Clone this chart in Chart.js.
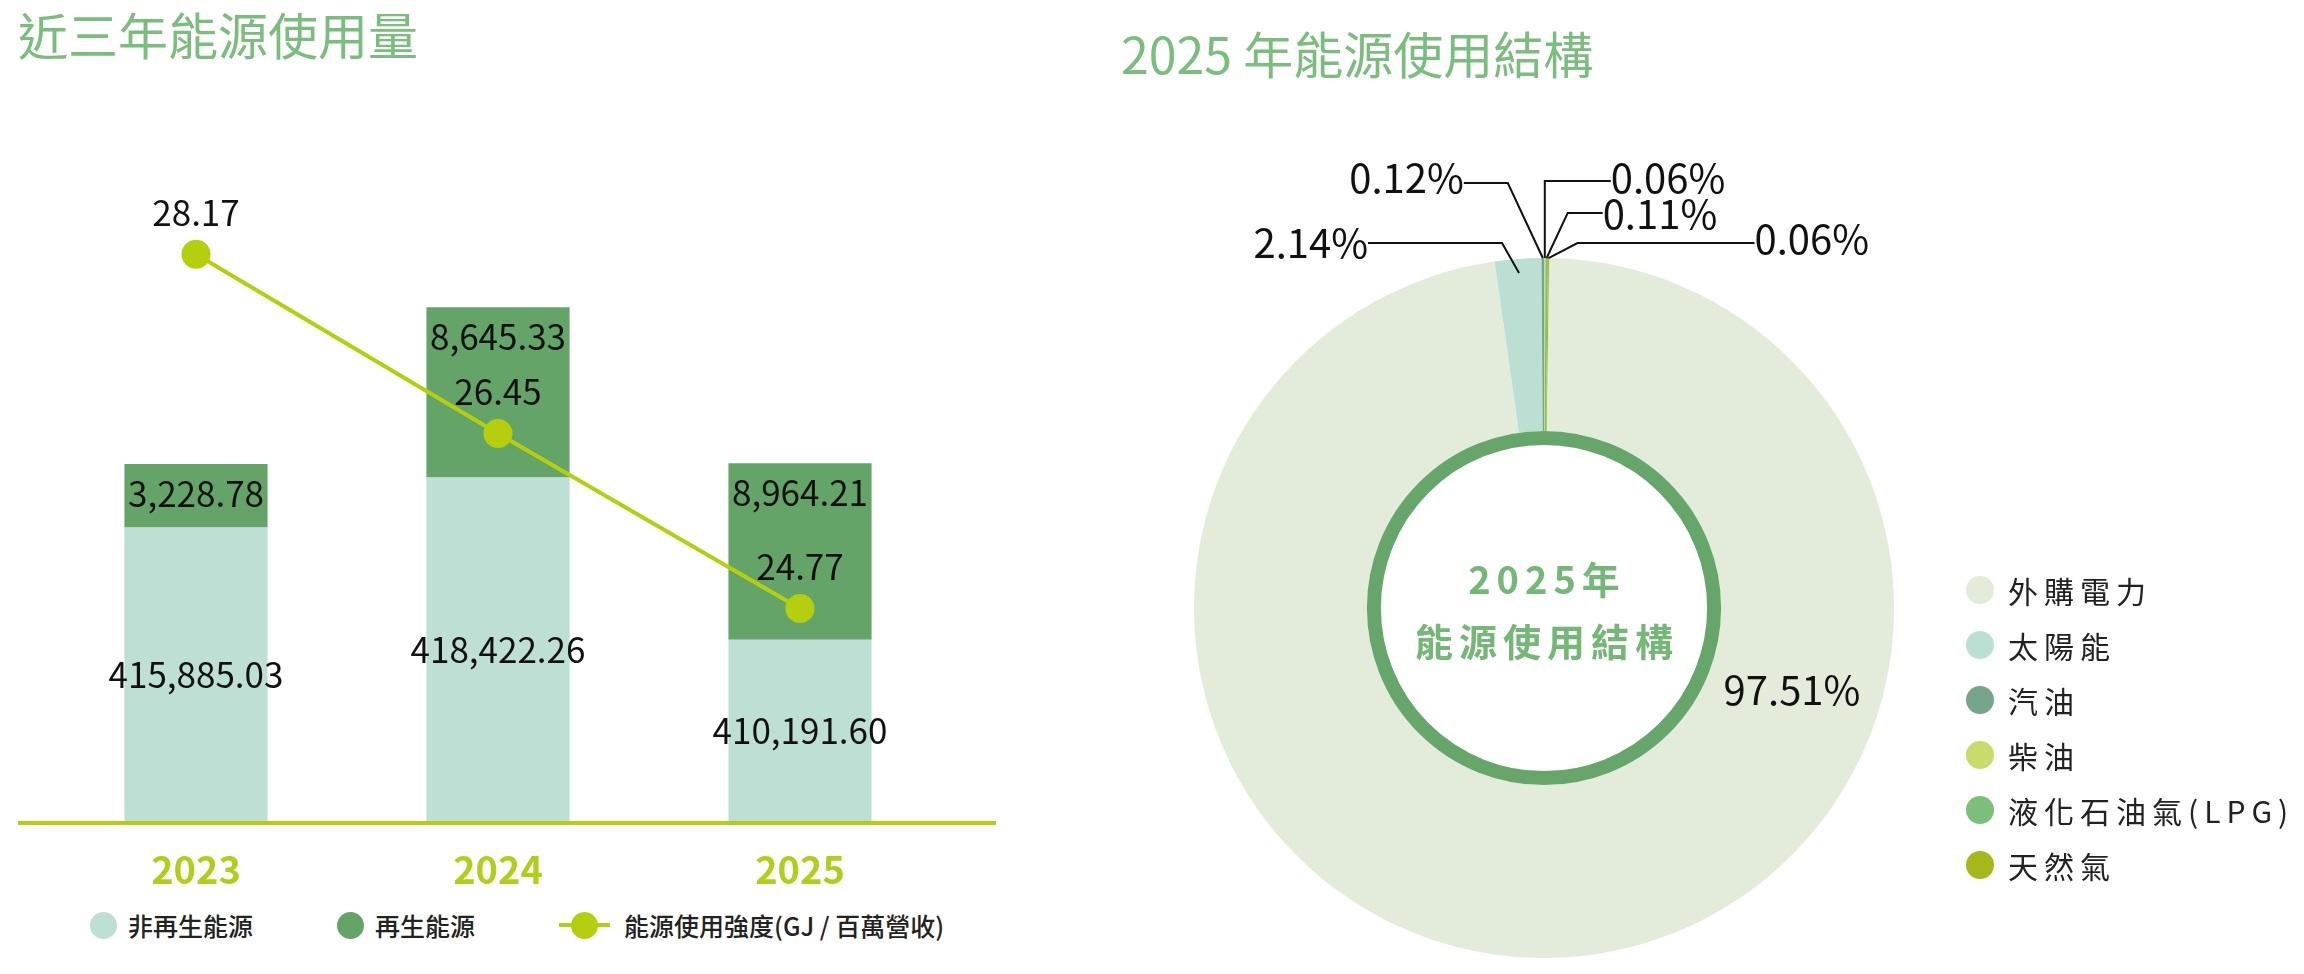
<!DOCTYPE html>
<html lang="zh-Hant">
<head>
<meta charset="utf-8">
<script src="https://cdn.jsdelivr.net/npm/chart.js@4.4.1/dist/chart.umd.min.js"></script>
<style>
  html, body { margin: 0; padding: 0; background: #fff; }
  body { width: 2304px; height: 974px; position: relative; overflow: hidden;
         font-family: 'Noto Sans CJK TC', 'Noto Sans', sans-serif; }
  .title { position: absolute; font-size: 50px; line-height: 50px; color: #7abd7c; white-space: nowrap; }
  #barCanvas { position: absolute; left: 0; top: 0; }
  #pieCanvas { position: absolute; left: 1094px; top: 0; }
  #barLegend { position: absolute; left: 90px; top: 910px; height: 30px; display: flex; align-items: center;
               font-size: 25px; font-weight: 500; color: #222; white-space: nowrap; }
  #barLegend .item { display: flex; align-items: center; margin-right: 84px; }
  #barLegend .dot { width: 27px; height: 27px; border-radius: 50%; margin-right: 11px; }
  #barLegend .lineMark { position: relative; width: 51px; height: 27px; margin-right: 14px; }
  #barLegend .lineMark span { position: absolute; left: 0; top: 11.5px; width: 51px; height: 4px; }
  #barLegend .lineMark i { position: absolute; left: 12px; top: 0; width: 27px; height: 27px; border-radius: 50%; }
  #pieLegend { position: absolute; left: 1966px; top: 562px; font-size: 30px; color: #222; letter-spacing: 6px; }
  #pieLegend .row { height: 55px; display: flex; align-items: center; white-space: nowrap; }
  #pieLegend .dot { width: 28px; height: 28px; border-radius: 50%; margin-right: 14px; }
</style>
</head>
<body>
<div class="title" style="left:18px; top:8px;">近三年能源使用量</div>
<div class="title" style="left:1121px; top:27px;">2025 年能源使用結構</div>
<canvas id="barCanvas" width="1000" height="900"></canvas>
<canvas id="pieCanvas" width="900" height="974"></canvas>
<div id="barLegend"></div>
<div id="pieLegend"></div>
<script>
// 近三年能源使用量 (GJ)
const years = ['2023', '2024', '2025'];
const nonRenewable = [415885.03, 418422.26, 410191.60];
const renewable = [3228.78, 8645.33, 8964.21];
const intensity = [28.17, 26.45, 24.77];
const seriesNames = ['非再生能源', '再生能源', '能源使用強度(GJ / 百萬營收)'];

// 2025 年能源使用結構 (%)
const sources = ['外購電力', '太陽能', '汽油', '柴油', '液化石油氣(LPG)', '天然氣'];
const sourceShares = [97.51, 2.14, 0.12, 0.06, 0.11, 0.06];

const seriesColors = ['#bddfd4', '#65a469', '#b5cf0f'];
const sourceColors = ['#e3ecda', '#bcdfd4', '#76a58c', '#c9dc6b', '#7bbf7b', '#a6b819'];

const FONT = "'Noto Sans CJK TC', 'Noto Sans', sans-serif";
Chart.defaults.font.family = FONT;

const fmt = v => v.toLocaleString('en-US', { minimumFractionDigits: 2, maximumFractionDigits: 2 });

// 底部的黃綠色軸線，比繪圖區略寬
const axisLine = {
  id: 'axisLine',
  afterDatasetsDraw(chart) {
    const { ctx, chartArea } = chart;
    ctx.save();
    ctx.strokeStyle = '#b5cf0f';
    ctx.lineWidth = 4;
    ctx.beginPath();
    ctx.moveTo(chartArea.left - 27, chartArea.bottom + 2);
    ctx.lineTo(chartArea.right + 45, chartArea.bottom + 2);
    ctx.stroke();
    ctx.restore();
  }
};

// 長條與折線的數值標籤
const valueLabels = {
  id: 'valueLabels',
  afterDatasetsDraw(chart) {
    const { ctx, chartArea } = chart;
    ctx.save();
    ctx.font = '35px ' + FONT;
    ctx.fillStyle = '#111';
    ctx.textAlign = 'center';
    ctx.textBaseline = 'middle';
    chart.getDatasetMeta(0).data.forEach((bar, i) => {
      const bottom = Math.min(bar.base, chartArea.bottom);
      ctx.fillText(fmt(nonRenewable[i]), bar.x, (bar.y + bottom) / 2);
    });
    chart.getDatasetMeta(1).data.forEach((bar, i) => {
      ctx.fillText(fmt(renewable[i]), bar.x, bar.y + 30);
    });
    chart.getDatasetMeta(2).data.forEach((pt, i) => {
      ctx.fillText(intensity[i].toFixed(2), pt.x, pt.y - 42);
    });
    ctx.restore();
  }
};

new Chart(document.getElementById('barCanvas'), {
  data: {
    labels: years,
    datasets: [
      { type: 'bar', label: seriesNames[0], data: nonRenewable, backgroundColor: seriesColors[0],
        order: 1, clip: { left: false, top: false, right: false, bottom: 0 } },
      { type: 'bar', label: seriesNames[1], data: renewable, backgroundColor: seriesColors[1],
        order: 1, clip: { left: false, top: false, right: false, bottom: 0 } },
      { type: 'line', label: seriesNames[2], data: intensity, yAxisID: 'y2', order: 0,
        borderColor: seriesColors[2], backgroundColor: seriesColors[2], borderWidth: 4,
        pointRadius: 14.5, pointBorderWidth: 0, pointBackgroundColor: seriesColors[2] }
    ]
  },
  options: {
    responsive: false,
    animation: false,
    layout: { padding: { left: 45, right: 49, top: 72, bottom: 0 } },
    datasets: { bar: { barPercentage: 0.474, categoryPercentage: 1, borderWidth: 0 } },
    scales: {
      x: {
        stacked: true,
        grid: { display: false, drawTicks: false },
        border: { display: false },
        ticks: { color: '#b4cc1c', padding: 26, font: { size: 38, weight: 'bold' } },
        afterFit(scale) { scale.height = 79; }
      },
      y: { stacked: true, display: false, min: 401000, max: 439000 },
      y2: { display: false, min: 22.73, max: 29.92 }
    },
    plugins: { legend: { display: false }, tooltip: { enabled: false } }
  },
  plugins: [axisLine, valueLabels]
});

// 甜甜圈內側的深綠色圓環與中央文字
const pieCenter = {
  id: 'pieCenter',
  afterDatasetsDraw(chart) {
    const { ctx } = chart;
    const arc = chart.getDatasetMeta(0).data[0];
    ctx.save();
    ctx.strokeStyle = '#67a66a';
    ctx.lineWidth = 14;
    ctx.beginPath();
    ctx.arc(arc.x, arc.y, arc.innerRadius - 7, 0, Math.PI * 2);
    ctx.stroke();
    ctx.font = 'bold 38px ' + FONT;
    ctx.fillStyle = '#74b776';
    ctx.textAlign = 'center';
    ctx.textBaseline = 'middle';
    ctx.letterSpacing = '6px';
    ctx.fillText('2025年', arc.x + 3, arc.y - 28);
    ctx.fillText('能源使用結構', arc.x + 3, arc.y + 34);
    ctx.restore();
  }
};

// 百分比標籤與引線（位置為版面設定）
const calloutLayout = [
  { at: [248, 82] },
  { r: 0.96, elbow: [-17, -30], run: -134, ty: 0 },
  { r: 1, elbow: [-35, -75], run: -44, ty: -5 },
  { r: 1, elbow: [0, -77], run: 66, ty: -3 },
  { r: 1, elbow: [21, -45], run: 35, ty: 1 },
  { r: 1, elbow: [29, -15], run: 177, ty: -4 }
];

const pieCallouts = {
  id: 'pieCallouts',
  afterDatasetsDraw(chart) {
    const { ctx } = chart;
    const arcs = chart.getDatasetMeta(0).data;
    ctx.save();
    ctx.font = '40px ' + FONT;
    ctx.fillStyle = '#111';
    ctx.strokeStyle = '#111';
    ctx.lineWidth = 2;
    ctx.textBaseline = 'middle';
    arcs.forEach((arc, i) => {
      const lay = calloutLayout[i];
      const text = sourceShares[i].toFixed(2) + '%';
      if (lay.at) {
        ctx.textAlign = 'center';
        ctx.fillText(text, arc.x + lay.at[0], arc.y + lay.at[1]);
        return;
      }
      const mid = (arc.startAngle + arc.endAngle) / 2;
      const ax = arc.x + Math.cos(mid) * arc.outerRadius * lay.r;
      const ay = arc.y + Math.sin(mid) * arc.outerRadius * lay.r;
      const ex = lay.elbow[0] === 0 ? ax : ax + lay.elbow[0];
      const ey = ay + lay.elbow[1];
      const tx = ex + lay.run;
      ctx.beginPath();
      ctx.moveTo(ax, ay);
      ctx.lineTo(ex, ey);
      ctx.lineTo(tx, ey);
      ctx.stroke();
      ctx.textAlign = lay.run < 0 ? 'right' : 'left';
      ctx.fillText(text, tx, ey + lay.ty);
    });
    ctx.restore();
  }
};

new Chart(document.getElementById('pieCanvas'), {
  type: 'doughnut',
  data: {
    labels: sources,
    datasets: [{ data: sourceShares, backgroundColor: sourceColors, borderWidth: 0, hoverOffset: 0, offset: 0 }]
  },
  options: {
    responsive: false,
    animation: false,
    cutout: '50.6%',
    rotation: 0.85,
    layout: { padding: { left: 100, right: 100, top: 258, bottom: 16 } },
    plugins: { legend: { display: false }, tooltip: { enabled: false } }
  },
  plugins: [pieCenter, pieCallouts]
});

// HTML 圖例
const barLegend = document.getElementById('barLegend');
seriesNames.forEach((name, i) => {
  const item = document.createElement('div');
  item.className = 'item';
  if (i < 2) {
    item.innerHTML = '<div class="dot" style="background:' + seriesColors[i] + '"></div>';
  } else {
    item.innerHTML = '<div class="lineMark"><span style="background:' + seriesColors[i] +
      '"></span><i style="background:' + seriesColors[i] + '"></i></div>';
  }
  item.appendChild(document.createTextNode(name));
  barLegend.appendChild(item);
});

const pieLegend = document.getElementById('pieLegend');
sources.forEach((name, i) => {
  const row = document.createElement('div');
  row.className = 'row';
  row.innerHTML = '<div class="dot" style="background:' + sourceColors[i] + '"></div>';
  row.appendChild(document.createTextNode(name));
  pieLegend.appendChild(row);
});
</script>
</body>
</html>
